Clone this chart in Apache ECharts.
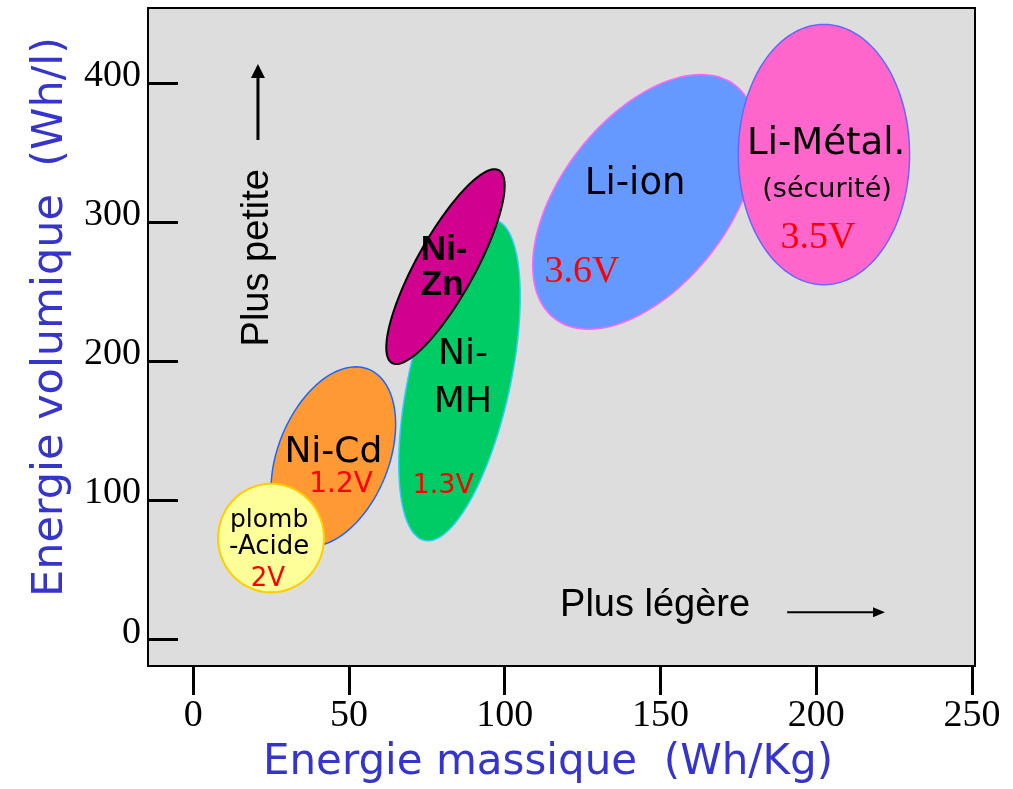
<!DOCTYPE html>
<html>
<head>
<meta charset="utf-8">
<script src="https://cdn.jsdelivr.net/npm/echarts@6/dist/echarts.min.js"></script>
<style>
  html, body { margin: 0; padding: 0; background: #ffffff; }
  #chart { width: 1013px; height: 789px; }
</style>
</head>
<body>
<div id="chart"></div>
<script>
// Tick values of both axes
const xTicks = [0, 50, 100, 150, 200, 250];
const yTicks = [0, 100, 200, 300, 400];

// Battery families: ranges of specific energy (Wh/Kg) and energy density (Wh/l)
const chemistries = ['Ni-Cd', 'plomb-Acide', 'Ni-MH', 'Ni-Zn', 'Li-ion', 'Li-Métal'];
const massMin = [25, 8, 66, 62, 109, 175];
const massMax = [65, 42, 105, 100, 181, 230];
const volMin = [67, 34, 71, 198, 223, 255];
const volMax = [196, 112, 302, 338, 406, 442];
// how strongly volume grows with mass inside each family (tilt of the region)
const tilt = [0.36, 0, 0.52, 0.83, 0.5, 0];
const voltages = ['1.2V', '2V', '1.3V', '', '3.6V', '3.5V'];

// Look of each region
const regionStyle = {
  'Ni-Cd':       { fill: '#ff9933', stroke: '#1a66ff', width: 1.5 },
  'plomb-Acide': { fill: '#ffff99', stroke: '#ffcc00', width: 2 },
  'Ni-MH':       { fill: '#00cc66', stroke: '#33ccff', width: 1.5 },
  'Ni-Zn':       { fill: '#d1008f', stroke: '#000000', width: 2 },
  'Li-ion':      { fill: '#6699ff', stroke: '#ff66ff', width: 1.5 },
  'Li-Métal':    { fill: '#ff66cc', stroke: '#6666ff', width: 1.5 }
};

const HAND = "'Comic Sans MS', 'DejaVu Sans', sans-serif";
const SANS = "'Liberation Sans', Arial, sans-serif";
const SERIF = "'Liberation Serif', 'Times New Roman', serif";

// Text placed inside the regions (anchor in axis units)
const regionText = [
  { text: 'Ni-Cd', at: [45, 134.6], font: '36px ' + HAND, color: '#000' },
  { text: voltages[0], at: [47.5, 111.6], font: '28px ' + HAND, color: '#ff0000' },
  { text: 'plomb', at: [24.4, 85.8], font: '25px ' + HAND, color: '#000' },
  { text: '-Acide', at: [24.4, 66.4], font: '26px ' + HAND, color: '#000' },
  { text: voltages[1], at: [24, 43.5], font: '26px ' + HAND, color: '#ff0000' },
  { text: 'Ni-', at: [86.6, 204.9], font: '36px ' + HAND, color: '#000' },
  { text: 'MH', at: [86.6, 170.5], font: '36px ' + HAND, color: '#000' },
  { text: voltages[2], at: [80.3, 110.2], font: '27px ' + HAND, color: '#ff0000' },
  { text: 'Ni-', at: [73.1, 279.5], font: 'bold 35px ' + SANS, color: '#000', align: 'left' },
  { text: 'Zn', at: [73.1, 254.4], font: 'bold 35px ' + SANS, color: '#000', align: 'left' },
  { text: 'Li-ion', at: [141.9, 326.8], font: '37px ' + HAND, color: '#000' },
  { text: voltages[4], at: [124.8, 264.4], font: '38px ' + SERIF, color: '#ff0000' },
  { text: 'Li-Métal.', at: [203.2, 355.5], font: '37px ' + HAND, color: '#000' },
  { text: '(sécurité)', at: [203.5, 323.2], font: '27px ' + HAND, color: '#000' },
  { text: voltages[5], at: [200.6, 288.8], font: '38px ' + SERIF, color: '#ff0000' }
];

// Direction hints with arrows (axis units)
const hints = [
  { text: 'Plus petite', at: [20.5, 274.4], rotate: true, arrowFrom: [20.8, 359], arrowTo: [20.8, 413.5], lw: 3, head: [7, 14] },
  { text: 'Plus légère', at: [148.3, 24.8], rotate: false, arrowFrom: [190.7, 19.8], arrowTo: [222.1, 19.8], lw: 2, head: [5, 12] }
];

const regionData = chemistries.map((name, i) => ({
  name: name,
  value: [massMin[i], massMax[i], volMin[i], volMax[i], tilt[i]]
}));

function renderRegion(params, api) {
  const x0 = api.value(0), x1 = api.value(1), y0 = api.value(2), y1 = api.value(3), rho = api.value(4);
  const cx = (x0 + x1) / 2, cy = (y0 + y1) / 2;
  const wx = (x1 - x0) / 2, hy = (y1 - y0) / 2;
  const phi = Math.acos(rho);
  const pts = [];
  const N = 120;
  for (let k = 0; k < N; k++) {
    const t = (k / N) * Math.PI * 2;
    pts.push(api.coord([cx + wx * Math.cos(t), cy + hy * Math.cos(t - phi)]));
  }
  const st = regionStyle[chemistries[params.dataIndex]];
  return {
    type: 'polygon',
    z2: params.dataIndex,
    shape: { points: pts },
    style: { fill: st.fill, stroke: st.stroke, lineWidth: st.width }
  };
}

function renderRegionText(params, api) {
  const item = regionText[params.dataIndex];
  const p = api.coord(item.at);
  return {
    type: 'text',
    x: p[0], y: p[1],
    style: {
      text: item.text, fill: item.color, font: item.font,
      align: item.align || 'center', verticalAlign: 'middle'
    }
  };
}

function renderHint(params, api) {
  const h = hints[params.dataIndex];
  const p = api.coord(h.at);
  const a = api.coord(h.arrowFrom);
  const b = api.coord(h.arrowTo);
  const dx = b[0] - a[0], dy = b[1] - a[1];
  const len = Math.sqrt(dx * dx + dy * dy);
  const ux = dx / len, uy = dy / len;
  const hw = h.head[0], hl = h.head[1];
  const base = [b[0] - ux * hl, b[1] - uy * hl];
  return {
    type: 'group',
    children: [
      {
        type: 'text', x: p[0], y: p[1], rotation: h.rotate ? Math.PI / 2 : 0,
        style: { text: h.text, fill: '#000', font: '38px ' + SANS, align: 'center', verticalAlign: 'middle' }
      },
      {
        type: 'line',
        shape: { x1: a[0], y1: a[1], x2: base[0], y2: base[1] },
        style: { stroke: '#000', lineWidth: h.lw }
      },
      {
        type: 'polygon',
        shape: { points: [b, [base[0] - uy * hw, base[1] + ux * hw], [base[0] + uy * hw, base[1] - ux * hw]] },
        style: { fill: '#000' }
      }
    ]
  };
}

const chart = echarts.init(document.getElementById('chart'));
chart.setOption({
  animation: false,
  backgroundColor: '#ffffff',
  grid: {
    left: 148, right: 38, top: 8, bottom: 122,
    show: true, backgroundColor: '#dddddd', borderColor: '#000000', borderWidth: 2
  },
  xAxis: {
    type: 'value', min: -14.5, max: 251,
    name: 'Energie massique  (Wh/Kg)', nameLocation: 'middle', nameGap: 76,
    nameTextStyle: { color: '#3535cc', fontSize: 42, fontFamily: HAND, padding: [0, 27, 0, 0] },
    axisLine: { show: false, onZero: false },
    splitLine: { show: false },
    axisTick: { show: true, inside: false, length: 29, customValues: xTicks, lineStyle: { color: '#000', width: 3 } },
    axisLabel: { customValues: xTicks, margin: 31, color: '#000', fontSize: 38, fontFamily: SERIF }
  },
  yAxis: {
    type: 'value', min: -18.9, max: 453.8,
    name: 'Energie volumique  (Wh/l)', nameLocation: 'middle', nameGap: 76,
    nameTextStyle: { color: '#3535cc', fontSize: 43, fontFamily: HAND, padding: [0, 0, 0, 40] },
    axisLine: { show: false, onZero: false },
    splitLine: { show: false },
    axisTick: { show: true, inside: true, length: 30, customValues: yTicks, lineStyle: { color: '#000', width: 3 } },
    axisLabel: {
      customValues: yTicks, margin: 7, color: '#000', fontSize: 38, fontFamily: SERIF,
      verticalAlign: 'bottom', lineHeight: 14
    }
  },
  series: [
    {
      name: 'familles', type: 'custom', renderItem: renderRegion, data: regionData,
      z: 2, silent: true
    },
    {
      name: 'tensions', type: 'custom', renderItem: renderRegionText,
      data: regionText.map(t => t.at), z: 3, silent: true
    },
    {
      name: 'sens', type: 'custom', renderItem: renderHint,
      data: hints.map(h => h.at), z: 3, silent: true
    }
  ]
});
</script>
</body>
</html>
